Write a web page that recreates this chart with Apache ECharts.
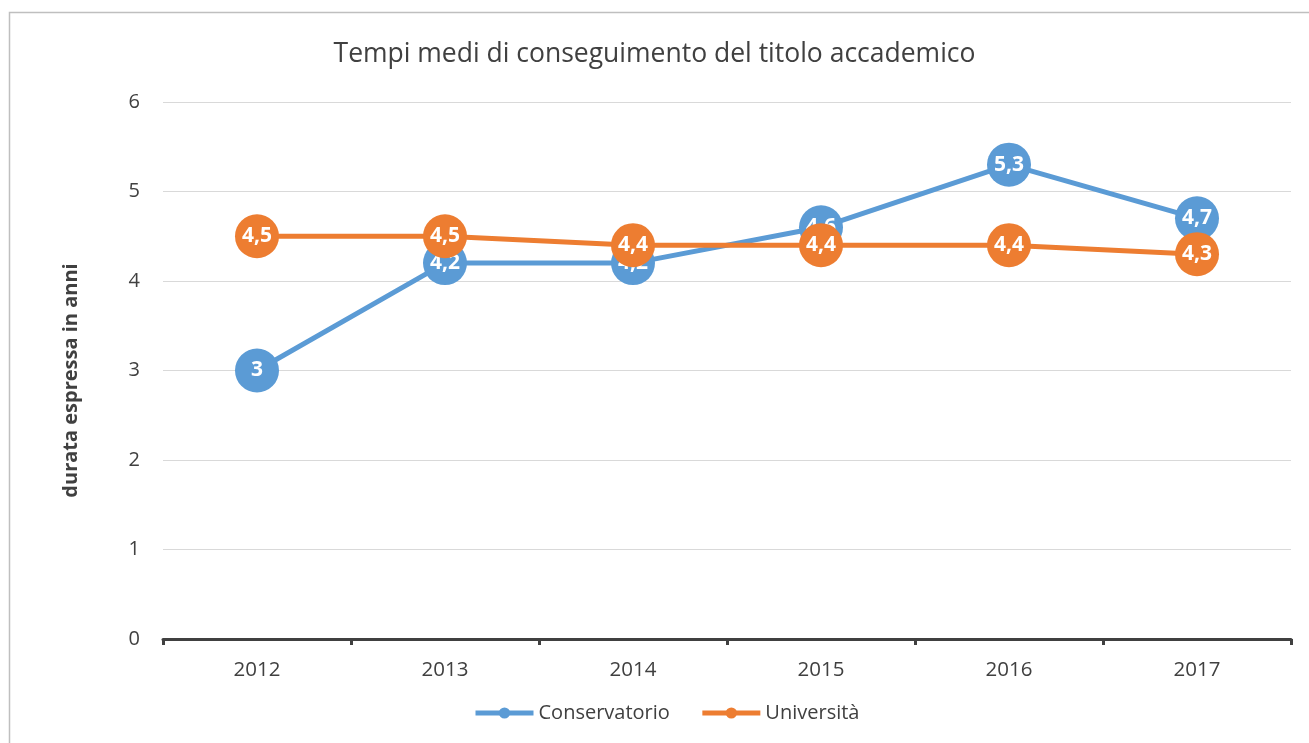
<!DOCTYPE html>
<html>
<head>
<meta charset="utf-8">
<script src="https://cdn.jsdelivr.net/npm/echarts@6/dist/echarts.min.js"></script>
<style>html,body{margin:0;padding:0;background:#fff}#c{width:1309px;height:743px}</style>
</head>
<body>
<div id="c"></div>
<script>
const categories = ['2012', '2013', '2014', '2015', '2016', '2017'];
const conservatorio = [3, 4.2, 4.2, 4.6, 5.3, 4.7];
const universita = [4.5, 4.5, 4.4, 4.4, 4.4, 4.3];
const yTicks = [0, 1, 2, 3, 4, 5, 6];

const FONT = '"Open Sans", "Noto Sans", sans-serif';
const chart = echarts.init(document.getElementById('c'), null, {renderer: 'canvas'});
const labelCfg = {
  show: true, position: 'inside', color: '#fff', fontWeight: 'bold',
  fontSize: 21, fontFamily: FONT,
  formatter: p => String(p.value).replace('.', ',')
};
chart.setOption({
  animation: false,
  textStyle: {fontFamily: FONT},
  graphic: [{
    type: 'rect', shape: {x: 9.5, y: 12.5, width: 1320, height: 760},
    style: {fill: 'none', stroke: '#bfbfbf', lineWidth: 1.5}, silent: true, z: -1
  }],
  title: {
    text: 'Tempi medi di conseguimento del titolo accademico',
    left: 'center', top: 36,
    textStyle: {fontSize: 26.5, fontWeight: 'normal', color: '#404040', fontFamily: FONT}
  },
  legend: {
    bottom: 15, left: 468, itemWidth: 58, itemHeight: 14, itemGap: 30,
    lineStyle: {width: 5},
    textStyle: {fontSize: 20, color: '#404040', fontFamily: FONT}
  },
  grid: {left: 163, right: 18, top: 102, bottom: 104},
  xAxis: {
    type: 'category', data: categories, boundaryGap: true,
    axisLine: {lineStyle: {color: '#404040', width: 3}},
    axisTick: {show: true, length: 6, lineStyle: {color: '#404040', width: 3}},
    axisLabel: {fontSize: 20.5, color: '#404040', margin: 21, fontFamily: FONT},
    splitLine: {show: false}
  },
  yAxis: {
    type: 'value', min: 0, max: 6, interval: 1,
    name: 'durata espressa in anni', nameLocation: 'middle', nameGap: 82,
    nameTextStyle: {fontSize: 20, fontWeight: 'bold', color: '#404040', fontFamily: FONT,
      padding: [0, 20, 0, 0]},
    axisLine: {show: false}, axisTick: {show: false},
    axisLabel: {fontSize: 20, color: '#404040', margin: 23, fontFamily: FONT,
      formatter: v => yTicks.includes(v) ? String(v) : ''},
    splitLine: {lineStyle: {color: '#d9d9d9', width: 1}}
  },
  series: [
    {
      name: 'Conservatorio', type: 'line', data: conservatorio,
      symbol: 'circle', symbolSize: 44,
      lineStyle: {color: '#5b9bd5', width: 5},
      itemStyle: {color: '#5b9bd5'},
      label: labelCfg, z: 2
    },
    {
      name: 'Università', type: 'line', data: universita,
      symbol: 'circle', symbolSize: 44,
      lineStyle: {color: '#ed7d31', width: 5},
      itemStyle: {color: '#ed7d31'},
      label: labelCfg, z: 3
    }
  ]
});
</script>
</body>
</html>
